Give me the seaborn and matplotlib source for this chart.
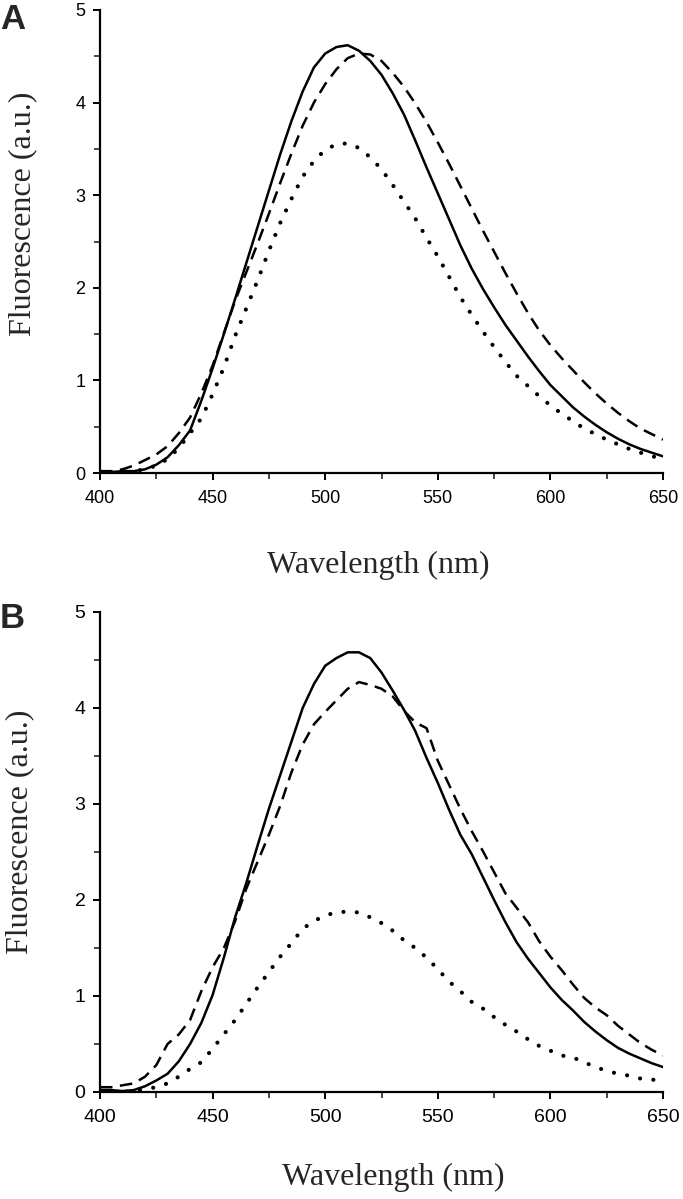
import numpy as np
import pandas as pd
import matplotlib
matplotlib.use("Agg")
import matplotlib.pyplot as plt
import seaborn as sns
from matplotlib.ticker import MultipleLocator

# ---------------------- Data ---------------------- #

wavelength = list(range(400, 655, 5))

# Panel A
a_solid = [0.01, 0.01, 0.02, 0.02, 0.04, 0.09, 0.17, 0.30, 0.46, 0.78,
           1.13, 1.50, 1.88, 2.27, 2.66, 3.05, 3.44, 3.80, 4.12, 4.38,
           4.53, 4.60, 4.62, 4.56, 4.45, 4.30, 4.10, 3.87, 3.59, 3.30,
           3.02, 2.74, 2.46, 2.21, 1.99, 1.79, 1.60, 1.43, 1.26, 1.10,
           0.95, 0.83, 0.71, 0.61, 0.52, 0.44, 0.37, 0.31, 0.26, 0.22, 0.18]
a_dashed = [0.02, 0.02, 0.04, 0.08, 0.14, 0.20, 0.29, 0.43, 0.60, 0.86,
            1.16, 1.51, 1.86, 2.17, 2.48, 2.80, 3.13, 3.45, 3.75, 4.00,
            4.20, 4.36, 4.48, 4.53, 4.52, 4.45, 4.32, 4.17, 3.99, 3.79,
            3.57, 3.34, 3.10, 2.86, 2.62, 2.39, 2.16, 1.94, 1.73, 1.54,
            1.38, 1.24, 1.11, 0.98, 0.86, 0.75, 0.65, 0.56, 0.48, 0.42, 0.36]
a_dotted = [0.00, 0.00, 0.01, 0.02, 0.04, 0.08, 0.15, 0.27, 0.43, 0.59,
            0.85, 1.14, 1.48, 1.78, 2.08, 2.40, 2.70, 2.96, 3.20, 3.37,
            3.49, 3.55, 3.56, 3.51, 3.41, 3.28, 3.11, 2.93, 2.75, 2.54,
            2.34, 2.12, 1.90, 1.71, 1.53, 1.36, 1.20, 1.05, 0.94, 0.83,
            0.73, 0.64, 0.56, 0.48, 0.42, 0.36, 0.31, 0.26, 0.22, 0.18, 0.16]

# Panel B
b_solid = [0.02, 0.02, 0.01, 0.02, 0.06, 0.12, 0.19, 0.32, 0.50, 0.72,
           1.01, 1.40, 1.82, 2.18, 2.57, 2.95, 3.30, 3.65, 4.00, 4.25,
           4.44, 4.52, 4.58, 4.58, 4.52, 4.37, 4.18, 3.98, 3.76, 3.48,
           3.22, 2.94, 2.68, 2.48, 2.24, 2.00, 1.77, 1.56, 1.39, 1.24,
           1.09, 0.96, 0.85, 0.73, 0.63, 0.54, 0.46, 0.40, 0.35, 0.30, 0.26]
b_dashed = [0.05, 0.05, 0.07, 0.09, 0.16, 0.28, 0.50, 0.60, 0.75, 1.05,
            1.30, 1.50, 1.78, 2.12, 2.40, 2.68, 2.98, 3.33, 3.62, 3.83,
            3.96, 4.08, 4.20, 4.27, 4.24, 4.20, 4.12, 3.97, 3.85, 3.79,
            3.45, 3.20, 2.95, 2.72, 2.51, 2.29, 2.07, 1.92, 1.77, 1.57,
            1.41, 1.27, 1.12, 0.98, 0.88, 0.80, 0.69, 0.60, 0.51, 0.44, 0.38]
b_dotted = [0.00, 0.00, 0.00, 0.01, 0.03, 0.05, 0.09, 0.16, 0.24, 0.31,
            0.45, 0.60, 0.75, 0.92, 1.09, 1.25, 1.41, 1.55, 1.70, 1.78,
            1.84, 1.87, 1.88, 1.87, 1.82, 1.76, 1.68, 1.58, 1.50, 1.40,
            1.28, 1.15, 1.05, 0.94, 0.87, 0.78, 0.70, 0.63, 0.55, 0.48,
            0.43, 0.38, 0.36, 0.31, 0.26, 0.22, 0.19, 0.17, 0.14, 0.13, 0.11]

x_ticks = [400, 450, 500, 550, 600, 650]
y_ticks = [0, 1, 2, 3, 4, 5]

# ---------------------- Plotting ---------------------- #

sns.set_style("ticks")
plt.rcParams['font.family'] = ['Liberation Sans', 'DejaVu Sans']

W, H = 683, 1199
fig = plt.figure(figsize=(W / 100, H / 100), dpi=100)


def px_axes(left, top, right, bottom):
    return fig.add_axes([left / W, 1 - bottom / H, (right - left) / W, (bottom - top) / H])


def draw_panel(ax, solid, dashed, dotted, label_size):
    lw = 1.8
    sns.lineplot(x=wavelength, y=solid, ax=ax, color='black', lw=lw)
    sns.lineplot(x=wavelength, y=dashed, ax=ax, color='black', lw=lw,
                 linestyle=(0, (5, 3)))
    sns.lineplot(x=wavelength, y=dotted, ax=ax, color='black', lw=3.0,
                 linestyle=(0, (0.01, 3.2)), dash_capstyle='round')
    ax.set_xlim(400, 650)
    ax.set_ylim(0, 5)
    ax.set_xticks(x_ticks)
    ax.set_yticks(y_ticks)
    ax.xaxis.set_minor_locator(MultipleLocator(25))
    ax.yaxis.set_minor_locator(MultipleLocator(0.5))
    sns.despine(ax=ax)
    for side in ['left', 'bottom']:
        ax.spines[side].set_linewidth(1.6)
        ax.spines[side].set_color('black')
    ax.tick_params(which='major', length=5, width=1.4, labelsize=label_size,
                   direction='out', colors='black')
    ax.tick_params(axis='x', which='major', pad=7)
    ax.tick_params(axis='y', which='major', pad=5.5)
    ax.tick_params(which='minor', length=4, width=1.2, direction='out')
    ax.set_xlabel('')
    ax.set_ylabel('')


ax_a = px_axes(100, 10, 663, 473)
draw_panel(ax_a, a_solid, a_dashed, a_dotted, 13)
ax_b = px_axes(100, 612, 663, 1092)
draw_panel(ax_b, b_solid, b_dashed, b_dotted, 14)

serif = ['Liberation Serif', 'DejaVu Serif']
for xl_x, xl_y, yl_x, yl_y in [(378, 565, 23, 214), (393, 1177, 20, 832)]:
    fig.text(xl_x / W, 1 - xl_y / H, 'Wavelength (nm)', family=serif,
             fontsize=23, ha='center', va='center')
    fig.text(yl_x / W, 1 - yl_y / H, 'Fluorescence (a.u.)', family=serif,
             fontsize=23, ha='center', va='center', rotation=90)

fig.text(0, 1 - 3 / H, 'A', fontsize=25, fontweight='bold', ha='left', va='top')
fig.text(0, 1 - 602 / H, 'B', fontsize=25, fontweight='bold', ha='left', va='top')

fig.savefig('out.png', dpi=100, facecolor='white')
